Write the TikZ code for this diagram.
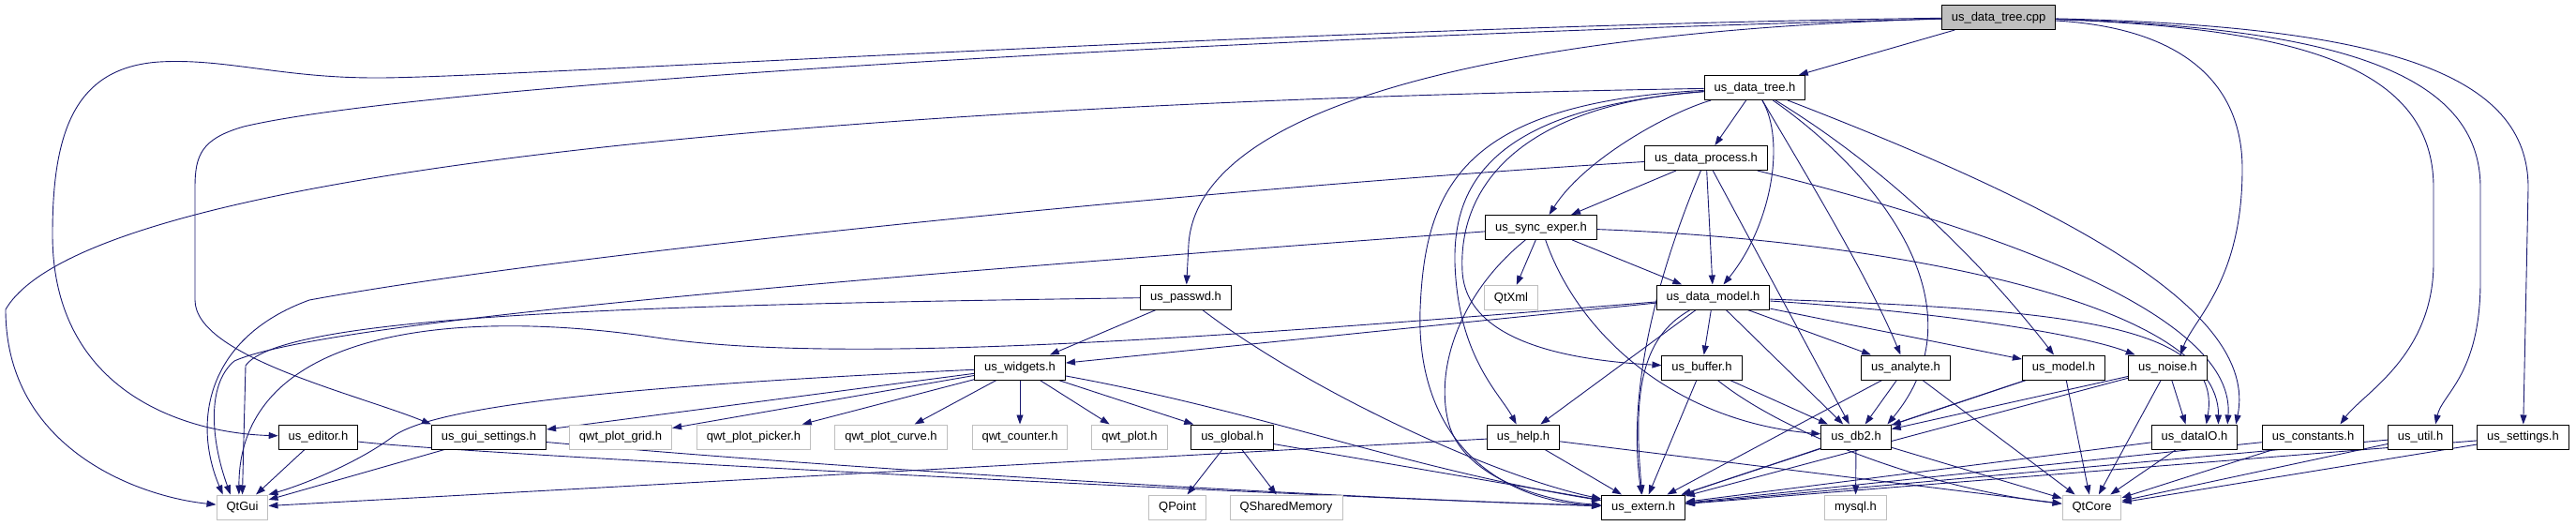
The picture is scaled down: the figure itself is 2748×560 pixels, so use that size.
\documentclass[tikz,border=0pt]{standalone}
\usepackage{fontspec}
\setmainfont{Liberation Sans}
\usetikzlibrary{arrows.meta,backgrounds}
\definecolor{edgeblue}{HTML}{191970}
\definecolor{sysgray}{HTML}{BFBFBF}
\begin{document}
\begin{tikzpicture}[x=1pt,y=-1pt,
  hdr/.style={draw=black,line width=1pt,fill=white,minimum height=26pt,inner xsep=10.5pt,
    text height=9.5pt,text depth=2.5pt,font=\fontsize{13}{15}\selectfont},
  sys/.style={hdr,draw=sysgray},
  src/.style={hdr,fill=sysgray},
  dep/.style={draw=edgeblue,line width=0.9pt,-{Triangle[length=10pt,width=7pt]}}]
\useasboundingbox (0,0) rectangle (2748,560);
%\draw[step=100,gray,very thin] (0,0) grid (2748,560);
\node[src] (cpp) at (2132,18.5) {us\_data\_tree.cpp};
\node[hdr] (tree) at (1872,93.5) {us\_data\_tree.h};
\node[hdr] (process) at (1820,168.5) {us\_data\_process.h};
\node[hdr] (sync) at (1644,242.5) {us\_sync\_exper.h};
\node[sys] (qtxml) at (1612,317.5) {QtXml};
\node[hdr] (model) at (1827.5,317) {us\_data\_model.h};
\node[hdr] (passwd) at (1265,317) {us\_passwd.h};
\node[hdr] (widgets) at (1088,392) {us\_widgets.h};
\node[hdr] (buffer) at (1815.5,392) {us\_buffer.h};
\node[hdr] (analyte) at (2033,392) {us\_analyte.h};
\node[hdr] (umodel) at (2201.5,392) {us\_model.h};
\node[hdr] (noise) at (2312.5,392) {us\_noise.h};
\node[hdr] (editor) at (339.5,466) {us\_editor.h};
\node[hdr] (guiset) at (521.5,466) {us\_gui\_settings.h};
\node[sys] (grid) at (662,466) {qwt\_plot\_grid.h};
\node[sys] (picker) at (804,466) {qwt\_plot\_picker.h};
\node[sys] (curve) at (950.5,466) {qwt\_plot\_curve.h};
\node[sys] (counter) at (1088,466) {qwt\_counter.h};
\node[sys] (qwtplot) at (1205,466) {qwt\_plot.h};
\node[hdr] (global) at (1314.5,466) {us\_global.h};
\node[hdr] (help) at (1625,466) {us\_help.h};
\node[hdr] (db2) at (1980,466) {us\_db2.h};
\node[hdr] (dataio) at (2341,466) {us\_dataIO.h};
\node[hdr] (consts) at (2467.5,466) {us\_constants.h};
\node[hdr] (util) at (2582,466) {us\_util.h};
\node[hdr] (settings) at (2691.5,466) {us\_settings.h};
\node[sys] (qtgui) at (258.5,541) {QtGui};
\node[sys] (qpoint) at (1256,541) {QPoint};
\node[sys] (qshm) at (1372,541) {QSharedMemory};
\node[hdr] (extern) at (1753,541) {us\_extern.h};
\node[sys] (mysql) at (1979.5,541) {mysql.h};
\node[sys] (qtcore) at (2231.5,541) {QtCore};
\begin{scope}[on background layer]
% us_data_tree.cpp
\draw[dep] (cpp) -- (tree);
\draw[dep] (cpp) .. controls (1400,28) and (520,84) .. (400,83) .. controls (300,83) and (240,62) .. (170,66) .. controls (80,72) and (56,140) .. (56,250) .. controls (56,420) and (200,462) .. (editor);
\draw[dep] (cpp) .. controls (1300,40) and (450,90) .. (260,135) .. controls (215,148) and (208,165) .. (208,200) -- (208,320) .. controls (208,380) and (380,420) .. (guiset.north west);
\draw[dep] (cpp) .. controls (1700,30) and (1280,90) .. (1268,260) -- (passwd);
\draw[dep] (cpp) .. controls (2330,30) and (2392,90) .. (2392,180) .. controls (2392,300) and (2340,340) .. (noise.45);
\draw[dep] (cpp) .. controls (2450,30) and (2596,70) .. (2596,200) -- (2596,280) .. controls (2596,380) and (2520,420) .. (consts.25);
\draw[dep] (cpp) .. controls (2500,30) and (2646,80) .. (2646,200) -- (2646,300) .. controls (2646,400) and (2605,420) .. (util.40);
\draw[dep] (cpp) .. controls (2550,28) and (2697,80) .. (2697,200) -- (settings);
% us_data_tree.h
\draw[dep] (tree) .. controls (1000,108) and (100,170) .. (6,330) .. controls (6,480) and (150,530) .. (qtgui);
\draw[dep] (tree) -- (process);
\draw[dep] (tree) .. controls (1780,120) and (1690,170) .. (sync);
\draw[dep] (tree) .. controls (1905,150) and (1890,240) .. (model);
\draw[dep] (tree) .. controls (1560,110) and (1520,200) .. (1515,330) .. controls (1510,470) and (1600,535) .. (extern);
\draw[dep] (tree) .. controls (1600,115) and (1550,190) .. (1552,280) .. controls (1555,380) and (1600,420) .. (help);
\draw[dep] (tree) .. controls (1620,112) and (1555,200) .. (1560,290) .. controls (1565,370) and (1690,385) .. (buffer);
\draw[dep] (tree) .. controls (1935,200) and (1995,300) .. (analyte);
\draw[dep] (tree) .. controls (2010,190) and (2115,330) .. (db2.22);
\draw[dep] (tree) .. controls (2030,190) and (2130,300) .. (umodel);
\draw[dep] (tree) .. controls (2200,220) and (2410,330) .. (dataio.17);
% us_data_process.h
\draw[dep] (process) .. controls (1300,200) and (600,270) .. (330,320) .. controls (220,360) and (205,450) .. (qtgui.147);
\draw[dep] (process) -- (sync);
\draw[dep] (process) -- (model);
\draw[dep] (process) -- (db2);
\draw[dep] (process) .. controls (1765,300) and (1736,420) .. (extern);
\draw[dep] (process) .. controls (2150,250) and (2385,340) .. (dataio.21);
% us_sync_exper.h
\draw[dep] (sync) .. controls (1000,290) and (350,340) .. (250,385) .. controls (220,410) and (225,470) .. (qtgui.133);
\draw[dep] (sync) -- (qtxml);
\draw[dep] (sync) -- (model);
\draw[dep] (sync) .. controls (1685,360) and (1790,450) .. (db2);
\draw[dep] (sync) .. controls (1560,310) and (1530,390) .. (1545,450) .. controls (1560,510) and (1650,535) .. (extern);
\draw[dep] (sync) .. controls (2000,255) and (2368,320) .. (dataio.28);
% us_data_model.h
\draw[dep] (model) .. controls (1300,360) and (900,390) .. (700,360) .. controls (500,330) and (255,345) .. (qtgui.105);
\draw[dep] (model) -- (widgets);
\draw[dep] (model) -- (help);
\draw[dep] (model) .. controls (1750,360) and (1742,420) .. (extern);
\draw[dep] (model) -- (buffer);
\draw[dep] (model) -- (analyte);
\draw[dep] (model) -- (db2);
\draw[dep] (model) -- (umodel);
\draw[dep] (model) .. controls (2100,335) and (2230,360) .. (noise);
\draw[dep] (model) .. controls (2200,330) and (2372,345) .. (dataio.47);
% us_passwd.h, us_widgets.h
\draw[dep] (passwd) .. controls (700,325) and (300,335) .. (262,390) -- (qtgui.90);
\draw[dep] (passwd) -- (widgets);
\draw[dep] (passwd) .. controls (1400,420) and (1600,510) .. (extern);
\draw[dep] (widgets) .. controls (700,410) and (470,430) .. (420,465) .. controls (380,495) and (320,518) .. (qtgui.north east);
\draw[dep] (widgets) -- (guiset);
\draw[dep] (widgets) -- (grid);
\draw[dep] (widgets) -- (picker);
\draw[dep] (widgets) -- (curve);
\draw[dep] (widgets) -- (counter);
\draw[dep] (widgets) -- (qwtplot);
\draw[dep] (widgets) -- (global);
\draw[dep] (widgets) .. controls (1350,440) and (1500,500) .. (extern);
% bottom rows
\draw[dep] (editor) -- (qtgui);
\draw[dep] (editor) .. controls (500,485) and (1400,530) .. (extern);
\draw[dep] (guiset) -- (qtgui);
\draw[dep] (guiset) .. controls (900,500) and (1400,530) .. (extern);
\draw[dep] (global) -- (qpoint);
\draw[dep] (global) -- (qshm);
\draw[dep] (global) -- (extern);
\draw[dep] (help) -- (qtgui);
\draw[dep] (help) -- (extern);
\draw[dep] (help) -- (qtcore);
\draw[dep] (buffer) -- (extern);
\draw[dep] (buffer) -- (db2);
\draw[dep] (buffer) .. controls (1900,460) and (2050,520) .. (qtcore);
\draw[dep] (analyte) -- (extern);
\draw[dep] (analyte) -- (db2);
\draw[dep] (analyte) -- (qtcore);
\draw[dep] (umodel) -- (db2);
\draw[dep] (umodel) -- (extern);
\draw[dep] (umodel) -- (qtcore);
\draw[dep] (noise) -- (db2);
\draw[dep] (noise) -- (dataio.125);
\draw[dep] (noise) -- (extern);
\draw[dep] (noise) -- (qtcore);
\draw[dep] (db2) -- (extern);
\draw[dep] (db2) -- (mysql);
\draw[dep] (db2) -- (qtcore);
\draw[dep] (dataio) -- (extern);
\draw[dep] (dataio) -- (qtcore);
\draw[dep] (consts) -- (extern);
\draw[dep] (consts) -- (qtcore);
\draw[dep] (util) -- (extern);
\draw[dep] (util) -- (qtcore);
\draw[dep] (settings) -- (extern);
\draw[dep] (settings) -- (qtcore);
\end{scope}
\end{tikzpicture}
\end{document}
